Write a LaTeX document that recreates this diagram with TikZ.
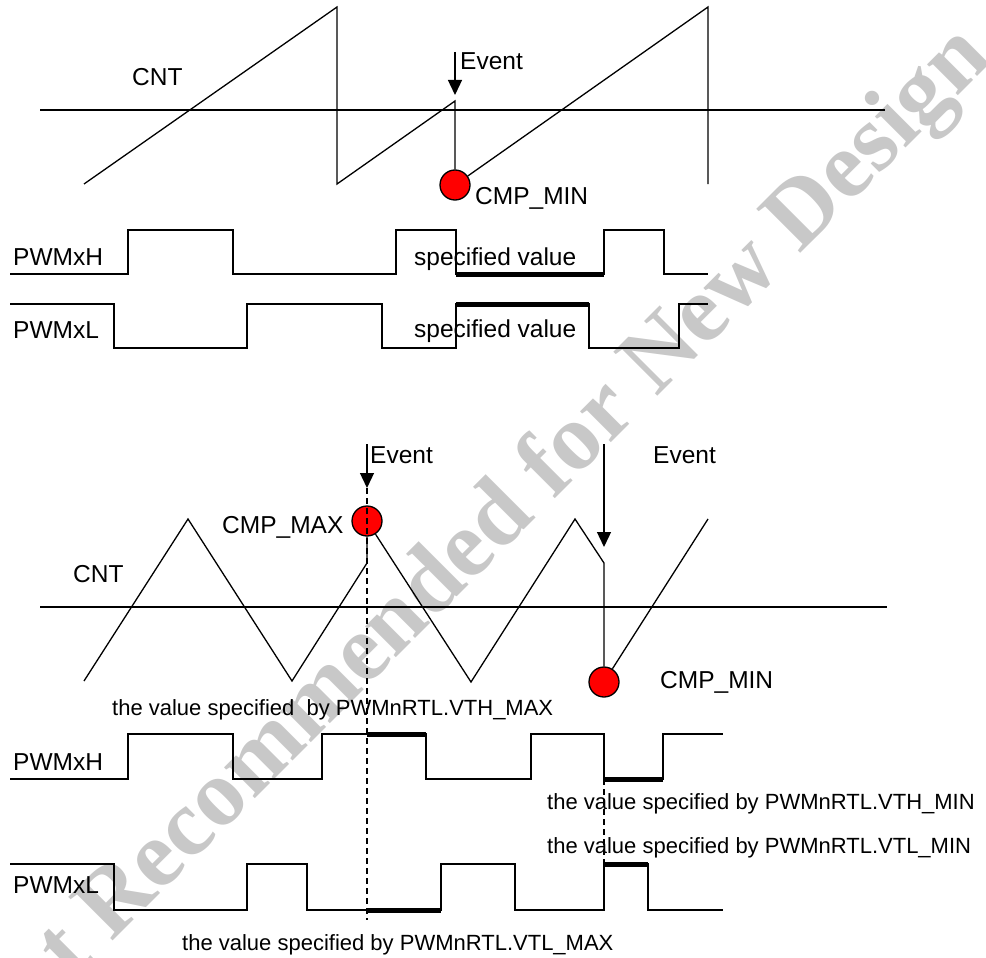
\documentclass[tikz,border=0pt]{standalone}
\usepackage{fontspec}
\setmainfont{Liberation Sans}
\newfontfamily\wmfont{Liberation Serif}
\usetikzlibrary{arrows.meta, positioning, calc}
\definecolor{WM}{RGB}{200,200,200}
\definecolor{CR}{RGB}{255,0,0}

\begin{document}
\begin{tikzpicture}[
  x=1pt, y=-1pt,
  wave/.style={line width=1.3pt},
  hold/.style={line width=5pt},
  evt/.style={-{Triangle[length=15pt,width=14pt]}, line width=1.3pt},
  cmp/.style={circle, draw, fill=CR, line width=1.3pt,
              minimum size=30pt, inner sep=0pt},
  lbl/.style={anchor=base west, inner sep=0pt, font=\fontsize{24.5}{29}\selectfont},
  note/.style={anchor=base west, inner sep=0pt, font=\fontsize{22}{26}\selectfont},
  vline/.style={dash pattern=on 6pt off 4pt, line width=1.2pt}
]
\useasboundingbox (0,0) rectangle (986,958);

% Watermark
\node[text=WM, rotate=45, anchor=base, inner sep=0pt,
      font=\wmfont\bfseries\fontsize{95}{108}\selectfont] (wm) at (492,562)
  {Not Recommended for New Design};

% Sawtooth counter
\draw[wave] (40,110) -- (885,110);
\node[cmp] (cmin1) at (455,185) {};
\draw[wave] (84,184) -- (337,7) -- (337,184) -- (455,101) -- (cmin1.north);
\draw[wave] (cmin1) -- (708,7) -- (708,184);

\coordinate (ev1) at (455,52);
\coordinate (ev1tip) at (455,95);
\draw[evt] (ev1) -- (ev1tip);

\node[lbl] (cnt1)    at (132,86)  {CNT};
\node[lbl] (evlbl1)  at (460,70)  {Event};
\node[lbl] (cmnlbl1) at (475,204) {CMP\_MIN};

% Outputs, sawtooth case
\node[lbl] (pwmh1) at (13,265) {PWMxH};
\node[lbl] (pwml1) at (13,338) {PWMxL};
\draw[wave] (10,274) -| (128,230) -| (233,274) -| (396,230) -| (456,274)
  -| (604,230) -| (664,274) -- (708,274);
\draw[hold] (456,274) -- (604,274);
\draw[wave] (10,304) -| (114,348) -| (247,304) -| (382,348) -| (456,304)
  -| (589,348) -| (679,304) -- (708,304);
\draw[hold] (456,304) -- (589,304);
\node[lbl] (spec1) at (414,265) {specified value};
\node[lbl] (spec2) at (414,337) {specified value};

% Triangle counter
\draw[wave] (40,607) -- (887,607);
\node[cmp] (cmax)  at (367,521) {};
\node[cmp] (cmin2) at (604,682) {};
\draw[wave] (84,681) -- (188,519) -- (292,681) -- (367,563) -- (cmax.south);
\draw[wave] (cmax) -- (471,682) -- (575,519) -- (604,563) -- (cmin2.north);
\draw[wave] (cmin2) -- (708,519);

\coordinate (ev2) at (367,444);
\coordinate (ev2tip) at (367,488);
\coordinate (ev3) at (604,444);
\coordinate (ev3tip) at (604,547);
\draw[evt] (ev2) -- (ev2tip);
\draw[evt] (ev3) -- (ev3tip);

\node[lbl] (evlbl2)  at (370,463) {Event};
\node[lbl] (evlbl3)  at (653,463) {Event};
\node[lbl] (cmxlbl)  at (222,533) {CMP\_MAX};
\node[lbl] (cnt2)    at (73,582)  {CNT};
\node[lbl] (cmnlbl2) at (660,688) {CMP\_MIN};

% Outputs, triangle case
\node[lbl] (pwmh2) at (13,770) {PWMxH};
\node[lbl] (pwml2) at (13,893) {PWMxL};
\draw[wave] (10,779) -| (128,734) -| (233,779) -| (322,734) -| (426,779)
  -| (531,734) -| (604,779) -| (663,734) -- (723,734);
\draw[hold] (367,734) -- (426,734);
\draw[hold] (604,779) -- (663,779);
\draw[wave] (10,864) -| (114,910) -| (247,864) -| (307,910) -| (441,864)
  -| (515,910) -| (604,864) -| (648,910) -- (723,910);
\draw[hold] (367,910) -- (441,910);
\draw[hold] (604,864) -- (648,864);

\coordinate (dsh1) at (367,920);
\coordinate (dsh2a) at (604,779);
\coordinate (dsh2b) at (604,864);
\draw[vline] (ev2tip) -- (dsh1);
\draw[vline] (dsh2a) -- (dsh2b);

\node[note] (vthmax) at (112,715) {the value specified \ by PWMnRTL.VTH\_MAX};
\node[note] (vtlmax) at (182,950) {the value specified by PWMnRTL.VTL\_MAX};
\node[note] (vthmin) at (547,809) {the value specified by PWMnRTL.VTH\_MIN};
\node[note] (vtlmin) at (547,853) {the value specified by PWMnRTL.VTL\_MIN};
\end{tikzpicture}
\end{document}
